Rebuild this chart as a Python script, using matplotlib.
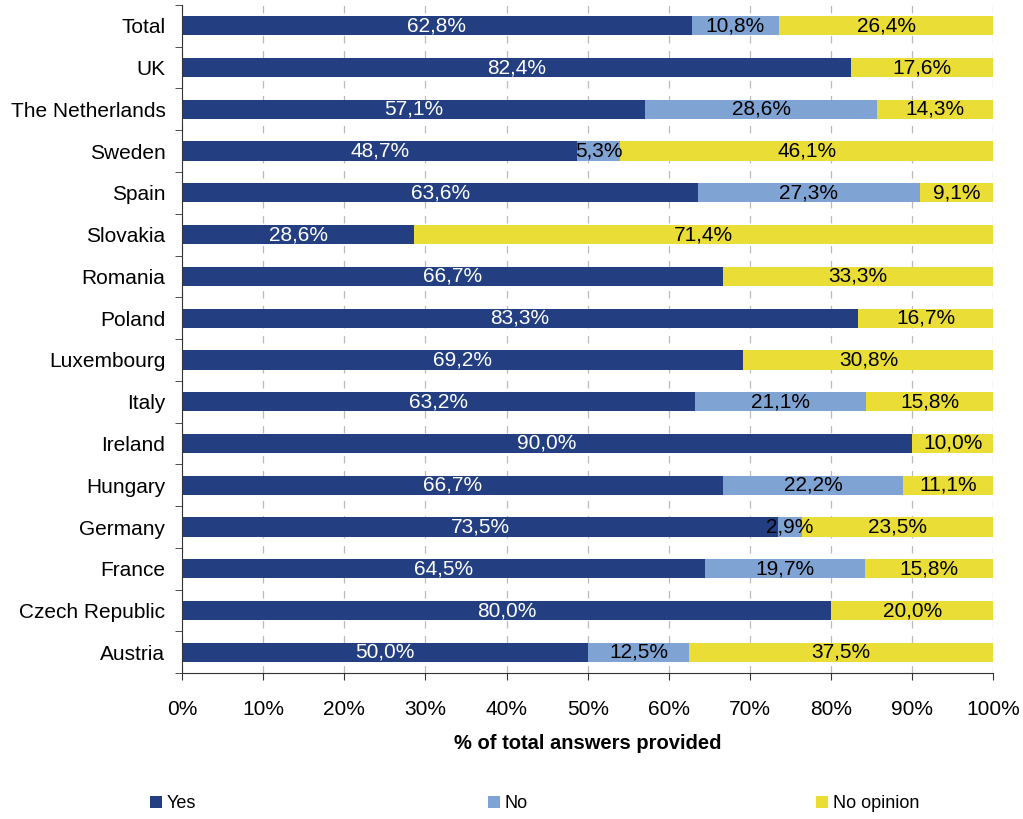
import matplotlib.pyplot as plt
import numpy as np

plt.rcParams['font.family'] = ['Liberation Sans', 'DejaVu Sans']

countries = ["Total", "UK", "The Netherlands", "Sweden", "Spain", "Slovakia",
             "Romania", "Poland", "Luxembourg", "Italy", "Ireland", "Hungary",
             "Germany", "France", "Czech Republic", "Austria"]
yes = [62.8, 82.4, 57.1, 48.7, 63.6, 28.6, 66.7, 83.3, 69.2, 63.2, 90.0, 66.7,
       73.5, 64.5, 80.0, 50.0]
no = [10.8, 0.0, 28.6, 5.3, 27.3, 0.0, 0.0, 0.0, 0.0, 21.1, 0.0, 22.2,
      2.9, 19.7, 0.0, 12.5]
no_opinion = [26.4, 17.6, 14.3, 46.1, 9.1, 71.4, 33.3, 16.7, 30.8, 15.8, 10.0,
              11.1, 23.5, 15.8, 20.0, 37.5]
series_names = ["Yes", "No", "No opinion"]
colors = ["#233F82", "#7FA3D3", "#EADD36"]
text_colors = ["white", "black", "black"]
xticks = list(range(0, 101, 10))

fig = plt.figure(figsize=(10.23, 8.19), dpi=100)
ax = fig.add_axes([0.178, 0.178, 0.793, 0.816])

n = len(countries)
y = np.arange(n)[::-1]
left = np.zeros(n)
for vals, name, col, tcol in zip([yes, no, no_opinion], series_names, colors, text_colors):
    vals = np.array(vals)
    ax.barh(y, vals, left=left, height=0.46, color=col, label=name, zorder=2)
    for yi, l, v in zip(y, left, vals):
        if v > 0:
            ax.text(l + v / 2, yi, f"{v:.1f}%".replace(".", ","), ha="center",
                    va="center", color=tcol, fontsize=15, zorder=3)
    left = left + vals

ax.set_xlim(0, 100)
ax.set_ylim(-0.5, n - 0.5)
ax.set_xticks(xticks)
ax.set_xticklabels([f"{t}%" for t in xticks], fontsize=15)
ax.set_yticks(y)
ax.set_yticklabels(countries, fontsize=15)
ax.set_yticks(np.arange(-0.5, n, 1), minor=True)
ax.tick_params(axis="y", which="major", length=0, pad=12)
ax.tick_params(axis="y", which="minor", length=5, direction="out", color="#333333")
ax.tick_params(axis="x", which="major", length=5, direction="out", pad=14, color="#333333")

ax.xaxis.grid(True, linestyle=(0, (6, 6)), color="#BBBBBB", linewidth=0.9, zorder=0)
ax.set_axisbelow(True)
for s in ["top", "right"]:
    ax.spines[s].set_visible(False)
for s in ["left", "bottom"]:
    ax.spines[s].set_color("#333333")

ax.set_xlabel("% of total answers provided", fontsize=14.5, fontweight="bold", labelpad=11)

handles, labels = ax.get_legend_handles_labels()
xs = [0.147, 0.477, 0.798]
for h, lab, x in zip(handles, labels, xs):
    fig.legend([h], [lab], loc="center left", bbox_to_anchor=(x, 0.019), frameon=False,
               fontsize=13, handlelength=0.65, handleheight=0.65, handletextpad=0.25,
               borderpad=0, borderaxespad=0)

fig.savefig("out.png", dpi=100)
